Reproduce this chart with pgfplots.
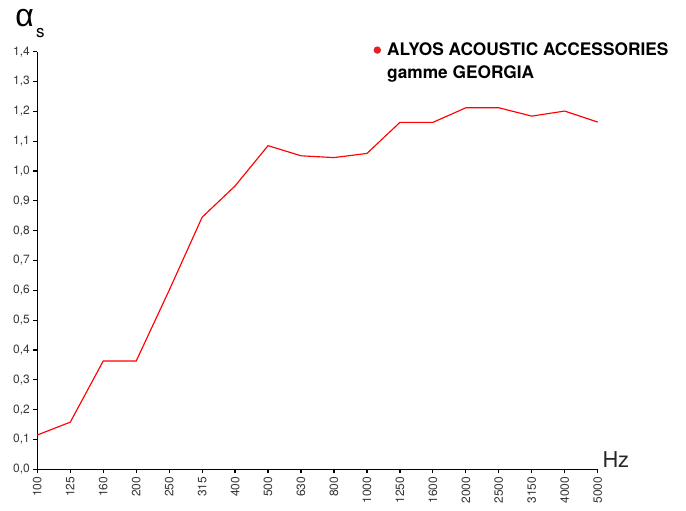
\documentclass[border=0pt]{standalone}
\usepackage{fontspec}
\setmainfont{TeX Gyre Heros}
\newfontfamily\greekfont{Liberation Sans}
\usepackage{pgfplots}
\pgfplotsset{compat=1.18}
\definecolor{tickgray}{RGB}{55,55,55}
\definecolor{legred}{RGB}{232,30,38}
\begin{document}
\begin{tikzpicture}[x=1pt,y=1pt]
\useasboundingbox (-37.3,-41.7) rectangle (648.7,469.3);
\begin{axis}[
  at={(0,0)}, anchor=south west,
  scale only axis, width=560.4pt, height=417.6pt,
  xmin=0, xmax=17, ymin=0, ymax=1.4,
  axis x line*=bottom, axis y line*=left,
  xtick={0,...,17},
  xticklabels={100,125,160,200,250,315,400,500,630,800,1000,1250,1600,2000,2500,3150,4000,5000},
  x tick label style={rotate=90, anchor=east},
  ytick={0,0.1,0.2,0.3,0.4,0.5,0.6,0.7,0.8,0.9,1.0,1.1,1.2,1.3,1.4},
  y tick label style={/pgf/number format/.cd, fixed, fixed zerofill, precision=1, use comma},
  /pgf/number format/assume math mode=true,
  tick align=outside, major tick length=4pt,
  tick style={black, line width=1.2pt},
  axis line style={line width=1.4pt},
  tick label style={font=\fontsize{12}{13}\selectfont, text=tickgray},
  clip=false,
  legend style={draw=none, fill=none, at={(rel axis cs:0.5975,1.035)}, anchor=north west,
    font=\fontsize{17.3}{23}\selectfont\bfseries, inner sep=0pt},
  legend cell align=left,
  legend image code/.code={\fill[legred, draw=none] (5pt,-2pt) circle (3.7pt); \path[draw=none, fill=none] (0pt,-1pt) rectangle (12.8pt,0pt);},
]
\addplot[red, line width=1.15pt, mark=none, forget plot] coordinates {
(0,0.115) (1,0.158) (2,0.363) (3,0.363) (4,0.60) (5,0.845) (6,0.95) (7,1.085)
(8,1.051) (9,1.045) (10,1.059) (11,1.163) (12,1.163) (13,1.212) (14,1.212)
(15,1.184) (16,1.201) (17,1.164)};
\addlegendimage{legred}
\addlegendentry{\begin{tabular}[t]{@{}l@{}}ALYOS ACOUSTIC ACCESSORIES\\gamme GEORGIA\end{tabular}}
\end{axis}
\node[anchor=base west, inner sep=0pt, font=\fontsize{32}{32}\selectfont\greekfont] at (-22,442.3) {α};
\node[anchor=base west, inner sep=0pt, font=\fontsize{17}{17}\selectfont] at (-1.5,431.3) {s};
\node[anchor=base west, inner sep=0pt, font=\fontsize{21.8}{22}\selectfont, text=black!85] at (565,2) {Hz};
\end{tikzpicture}
\end{document}
